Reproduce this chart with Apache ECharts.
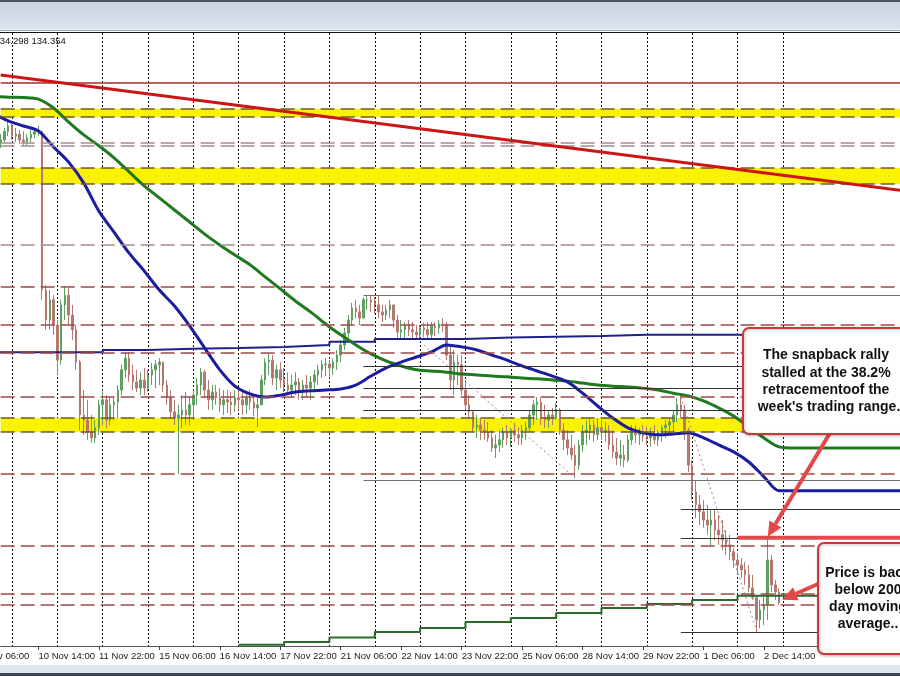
<!DOCTYPE html>
<html><head><meta charset="utf-8">
<script src="https://cdn.jsdelivr.net/npm/echarts/dist/echarts.min.js"></script>
<style>html,body{margin:0;padding:0;background:#fff;}#c{width:900px;height:676px;}</style>
</head><body><div id="c"></div>
<script>
// ---- time axis (2-hour bars, trading days only) ----
const tradingDays = ['9 Nov','10 Nov','11 Nov','14 Nov','15 Nov','16 Nov','17 Nov','18 Nov','21 Nov','22 Nov','23 Nov','24 Nov','25 Nov','28 Nov','29 Nov','30 Nov','1 Dec','2 Dec','5 Dec','6 Dec','7 Dec'];
const tickLabels = ['9 Nov 06:00','10 Nov 14:00','11 Nov 22:00','15 Nov 06:00','16 Nov 14:00','17 Nov 22:00','21 Nov 06:00','22 Nov 14:00','23 Nov 22:00','25 Nov 06:00','28 Nov 14:00','29 Nov 22:00','1 Dec 06:00','2 Dec 14:00'];
const headerText = '134.298 134.354';

// ---- USDJPY price bars (every 2 hours) ----
const close = [146.30,146.25,146.15,146.10,146.04,146.20,146.25,146.47,146.61,146.35,
146.40,146.25,146.20,146.30,146.40,146.47,146.47,142.39,141.62,142.14,
141.49,140.59,142.01,142.26,141.75,141.37,140.54,139.18,139.05,138.74,
138.59,138.85,139.44,139.57,139.05,139.44,139.51,139.82,140.34,140.64,
140.21,140.03,139.87,140.08,139.87,140.21,140.34,140.47,140.54,139.95,
139.62,139.26,139.10,139.18,139.31,139.18,139.44,139.69,139.95,140.28,
139.82,139.57,139.77,139.62,139.44,139.57,139.51,139.44,139.62,139.57,
139.44,139.62,139.51,139.36,139.44,140.08,140.54,140.59,140.13,140.34,
140.08,139.95,139.82,139.95,140.03,139.82,139.95,139.87,140.03,140.21,
140.34,140.47,140.49,140.39,140.54,140.72,140.98,141.29,141.62,141.93,
141.83,141.67,142.14,142.14,142.08,142.01,141.83,141.75,141.88,142.01,
141.62,141.31,141.37,141.49,141.37,141.31,141.24,141.42,141.37,141.24,
141.47,141.42,141.52,141.49,140.72,140.08,140.54,140.47,139.82,139.44,
139.26,138.85,138.92,138.79,138.74,138.59,138.33,138.41,138.54,138.74,
138.59,138.79,138.67,138.59,138.79,138.85,139.18,139.44,139.51,139.10,
139.05,139.18,139.10,139.31,138.79,138.54,138.33,138.15,137.89,138.41,
138.74,138.79,138.92,138.67,138.85,138.74,138.79,138.41,138.23,138.07,
138.15,138.02,138.54,138.79,138.67,138.74,138.64,138.59,138.67,138.54,
138.74,138.85,138.92,139.00,139.18,139.44,139.31,138.79,137.89,137.20,
136.87,136.69,136.48,136.35,136.48,136.22,136.10,135.97,135.84,135.66,
135.45,135.32,135.20,135.07,134.73,134.48,133.91,134.17,134.30,135.45,
134.81,134.63,134.35];
const high = [146.51,146.47,146.38,146.30,146.25,146.30,146.40,146.56,146.71,146.66,
146.56,146.51,146.47,146.40,146.51,146.56,146.61,146.38,142.52,142.39,
142.26,141.62,142.14,142.50,142.44,142.01,141.49,140.59,139.82,139.57,
139.18,139.05,139.57,139.82,139.69,139.62,139.62,139.95,140.47,140.80,
140.80,140.47,140.34,140.28,140.39,140.34,140.52,140.59,140.64,140.54,
140.08,139.82,139.57,139.44,139.69,139.77,139.62,139.82,140.13,140.39,
140.34,140.08,139.95,139.95,139.87,139.82,139.82,139.77,139.82,139.87,
139.82,139.77,139.82,139.69,139.62,140.21,140.64,140.77,140.72,140.47,
140.54,140.39,140.28,140.21,140.28,140.13,140.08,140.21,140.18,140.34,
140.47,140.59,140.64,140.59,140.64,140.85,141.11,141.42,141.75,142.06,
142.14,142.01,142.21,142.26,142.24,142.21,142.24,142.01,142.01,142.14,
142.01,141.75,141.62,141.57,141.62,141.57,141.49,141.49,141.55,141.57,
141.57,141.57,141.62,141.67,141.57,140.98,140.85,140.72,140.72,140.08,
139.69,139.31,139.18,139.10,139.05,139.00,138.79,138.67,138.79,138.85,
138.92,138.85,138.97,138.85,138.92,139.00,139.31,139.57,139.64,139.62,
139.44,139.31,139.36,139.49,139.36,138.97,138.79,138.67,138.41,138.54,
138.92,139.05,139.10,139.05,139.10,139.05,139.00,138.92,138.79,138.59,
138.54,138.41,138.67,138.92,138.92,138.85,138.92,138.87,138.85,138.92,
138.79,138.92,139.05,139.10,139.31,139.62,139.69,139.44,138.85,138.02,
137.51,137.12,136.99,136.87,136.74,136.74,136.61,136.48,136.22,136.10,
135.76,135.63,135.50,135.40,135.32,135.07,134.55,134.42,134.55,136.02,
135.58,134.94,134.73];
const low = [146.20,146.12,146.04,145.99,145.94,145.99,146.04,146.20,146.35,146.25,
146.20,146.15,146.10,146.12,146.20,146.30,146.35,142.14,141.37,141.37,
141.24,140.21,140.47,141.62,141.49,141.11,140.34,138.79,138.67,138.54,
138.46,138.46,138.67,138.92,138.85,138.92,139.05,139.10,139.69,140.13,
140.03,139.82,139.77,139.69,139.69,139.77,139.95,139.87,139.95,139.77,
139.44,139.10,138.92,137.66,138.85,138.92,138.92,139.05,139.44,139.69,
139.62,139.31,139.31,139.44,139.26,139.18,139.23,139.18,139.26,139.31,
139.18,139.21,139.31,139.15,138.87,139.44,139.95,140.21,139.95,139.82,
139.87,139.77,139.69,139.62,139.69,139.57,139.57,139.62,139.57,139.77,
139.95,140.13,140.18,140.13,140.21,140.34,140.54,140.85,141.16,141.49,
141.67,141.49,141.75,141.88,141.83,141.78,141.67,141.57,141.62,141.67,
141.42,141.11,141.11,141.16,141.21,141.16,141.11,141.16,141.18,141.11,
141.16,141.21,141.26,141.31,140.59,139.82,139.69,139.95,139.69,139.31,
139.10,138.74,138.59,138.54,138.54,138.49,138.23,138.07,138.23,138.33,
138.41,138.36,138.49,138.41,138.41,138.54,138.74,138.92,139.05,138.92,
138.85,138.85,138.92,139.05,138.67,138.28,138.15,138.02,137.56,137.77,
138.23,138.41,138.54,138.49,138.54,138.54,138.49,138.28,138.07,137.89,
137.87,137.84,137.97,138.41,138.46,138.41,138.49,138.41,138.36,138.43,
138.38,138.49,138.59,138.67,138.74,139.00,139.10,138.54,137.71,136.99,
136.53,136.35,136.28,136.10,135.81,135.97,135.84,135.71,135.58,135.45,
135.25,135.07,134.99,134.81,134.63,134.42,133.60,133.70,133.78,133.91,
134.63,134.42,134.30];

// ---- hourly moving averages, one value every 4 bars (8 hours) ----
const maStep = 4;
const ma100h = [147.02,146.92,146.74,146.61,146.48,146.07,145.68,145.14,144.42,143.88,
143.34,142.88,142.39,141.98,141.47,140.90,140.34,139.92,139.72,139.64,
139.69,139.77,139.80,139.82,139.85,139.95,140.18,140.39,140.54,140.67,
140.80,140.98,140.93,140.85,140.72,140.59,140.44,140.31,140.18,140.03,
139.74,139.41,139.10,138.85,138.72,138.67,138.69,138.72,138.59,138.41,
138.23,137.97,137.59,137.23,137.23,137.23,137.23,137.23,137.23,137.23,137.23,137.23];
const ma200h = [147.38,147.37,147.35,147.34,147.30,147.07,146.71,146.38,146.10,145.79,
145.43,145.07,144.76,144.45,144.14,143.83,143.55,143.29,143.04,142.73,
142.42,142.11,141.83,141.52,141.24,140.98,140.75,140.57,140.44,140.34,
140.31,140.28,140.23,140.21,140.18,140.16,140.13,140.11,140.08,140.05,
140.00,139.95,139.92,139.90,139.87,139.82,139.74,139.67,139.54,139.36,
139.15,138.87,138.59,138.36,138.33,138.33,138.33,138.33,138.33,138.33,138.33,138.33];
// ---- daily moving averages, one value per trading day (9 Nov .. 2 Dec) ----
const ma100d = [140.79,140.79,140.79,140.85,140.88,140.90,140.93,140.98,141.06,141.13,141.13,141.17,141.19,141.21,141.24,141.24,141.24,141.19];
const ma200d = [null,null,null,null,null,null,133.27,133.34,133.46,133.60,133.70,133.86,133.96,134.09,134.22,134.32,134.42,134.53];

// ---- horizontal levels ----
const solidLevels = [147.71];
const yellowZones = [[147.05,146.84],[145.53,145.12],[139.10,138.74]];
const grayDashedLevels = [146.17,146.10,143.55];
const redDashedLevels = [142.47,141.49,140.77,139.64,137.66,135.81,134.58,134.30];
// fibonacci retracements
const fibWeekStart = '21 Nov 18:00';
const fibWeekLevels = [142.26,140.44,139.87,139.31,137.51];
const fibSwingStart = '30 Nov 18:00';
const fibSwingLevels = [139.87,136.76,136.02,133.60];
const retrace382 = 136.02;
const retrace382Start = '2 Dec 00:00';
// trend line (from 9 Nov 18:00 to the right edge) & dotted swing lines
const trendLineStart = '9 Nov 18:00';
const trendLine = [147.92, 144.96];
const swingLines = [[['23 Nov 02:00',140.98],['28 Nov 10:00',137.56]],[['30 Nov 18:00',139.64],['2 Dec 10:00',133.65]]];
const spikeBar = '2 Dec 16:00';
const lastBar = '2 Dec 22:00';

// ---- build categories ----
const categories = [];
tradingDays.forEach((d, di) => {
  for (let h = (di === 0 ? 6 : 0); h < 24; h += 2) categories.push(d + ' ' + String(h).padStart(2, '0') + ':00');
});
categories.length = 245;
const N = categories.length;
const lastGridIdx = categories.indexOf('5 Dec 00:00');
const dayStartIdx = tradingDays.map((d, di) => di === 0 ? 0 : categories.indexOf(d + ' 00:00'));
const catIdx = c => categories.indexOf(c);

const ohlc = close.map((c, i) => [i === 0 ? c : close[i - 1], c, low[i], high[i]]);
const maPts = arr => arr.map((v, k) => [k * maStep, v]);
function dailyPts(arr) {
  const pts = [];
  arr.forEach((v, d) => { if (v != null) pts.push([dayStartIdx[d], v]); });
  pts.push([N - 1, arr[arr.length - 1]]);
  return pts;
}

const step = 45.35 / 12;          // px per 2-hour bar
const firstShown = 6;             // first category inside the plot (9 Nov 18:00)
const idx0X = 12 - 9 * step;      // where 9 Nov 06:00 would sit
const gridLeft = idx0X + firstShown * step;
const chart = echarts.init(document.getElementById('c'));
const dashStyle = (color) => ({ color: color, width: 1.5, type: [14, 6] });
const markLineCommon = { symbol: ['none', 'none'], silent: true, label: { show: false }, animation: false };

const option = {
  animation: false,
  backgroundColor: '#ffffff',
  grid: { left: gridLeft, top: 33, width: (N - 1 - firstShown) * step, height: 613 },
  xAxis: {
    type: 'category', data: categories, boundaryGap: false, z: 1, min: firstShown, max: N - 1,
    axisLine: { lineStyle: { color: '#555', width: 1 } },
    axisTick: { show: true, length: 4, interval: (i) => tickLabels.includes(categories[i]), lineStyle: { color: '#444' } },
    axisLabel: { interval: (i) => tickLabels.includes(categories[i]), align: 'left', margin: 5, fontSize: 9.5, fontFamily: '"Liberation Sans", Arial, sans-serif', color: '#222' },
    splitLine: { show: true, interval: (i) => categories[i].endsWith(' 00:00') && i <= lastGridIdx, lineStyle: { color: '#111', width: 1, type: [2, 2] } }
  },
  yAxis: { type: 'value', min: 133.24, max: 149.00, show: false, splitLine: { show: false } },
  series: [
    { type: 'line', data: [], z: 0, silent: true,
      markArea: { silent: true, itemStyle: { color: '#fbf200' }, data: yellowZones.map(z => [{ yAxis: z[0] }, { yAxis: z[1] }]) } },
    { type: 'line', data: [], z: 2, silent: true,
      markLine: Object.assign({}, markLineCommon, { data: [].concat(
        yellowZones.flat().map(v => ({ yAxis: v, lineStyle: dashStyle('#6e5a2c') })),
        grayDashedLevels.map(v => ({ yAxis: v, lineStyle: dashStyle('#a58c8c') })),
        redDashedLevels.map(v => ({ yAxis: v, lineStyle: dashStyle('#a04a4a') })),
        solidLevels.map(v => ({ yAxis: v, lineStyle: { color: '#a02c2c', width: 1.5, type: 'solid' } }))
      ) }) },
    { type: 'line', data: [], z: 2, silent: true,
      markLine: Object.assign({}, markLineCommon, { data: [].concat(
        fibWeekLevels.map((v, i) => [{ coord: [catIdx(fibWeekStart), v], lineStyle: { color: (i === 0 || i === fibWeekLevels.length - 1) ? '#707070' : '#333', width: 1.2, type: 'solid' } }, { coord: [N - 1, v] }]),
        fibSwingLevels.map(v => [{ coord: [catIdx(fibSwingStart), v], lineStyle: { color: '#333', width: 1.2, type: 'solid' } }, { coord: [N - 1, v] }]),
        swingLines.map(s => [{ coord: [catIdx(s[0][0]), s[0][1]], lineStyle: { color: '#8a8a8a', width: 1, type: [2, 3] } }, { coord: [catIdx(s[1][0]), s[1][1]] }])
      ) }) },
    { type: 'candlestick', data: ohlc.map((d, i) => [i].concat(d)), encode: { x: 0, y: [1, 2, 3, 4] }, barWidth: 2, z: 3,
      itemStyle: { color: '#5f9f5f', color0: '#b47870', borderColor: '#5f9f5f', borderColor0: '#b47870', borderWidth: 1 } },
    { type: 'line', data: dailyPts(ma100d), step: 'end', showSymbol: false, z: 4, lineStyle: { color: '#20208c', width: 2 } },
    { type: 'line', data: dailyPts(ma200d), step: 'end', showSymbol: false, z: 4, lineStyle: { color: '#2a6a2a', width: 2 } },
    { type: 'line', data: maPts(ma200h), smooth: 0.3, showSymbol: false, z: 4, lineStyle: { color: '#1f7a1f', width: 3 } },
    { type: 'line', data: maPts(ma100h), smooth: 0.3, showSymbol: false, z: 4, lineStyle: { color: '#1c1ca0', width: 3 } },
    { type: 'line', data: [[catIdx(trendLineStart), trendLine[0]], [N - 1, trendLine[1]]], showSymbol: false, z: 5, lineStyle: { color: '#cc1515', width: 3 } },
    { type: 'line', data: [[catIdx(retrace382Start), retrace382], [N - 1, retrace382]], showSymbol: false, z: 5, lineStyle: { color: '#e24a4a', width: 4 } }
  ]
};
chart.setOption(option);

// ---- annotations ----
function arrow(tail, tip, color) {
  const dx = tip[0] - tail[0], dy = tip[1] - tail[1];
  const len = Math.hypot(dx, dy), ux = dx / len, uy = dy / len;
  const bx = tip[0] - ux * 15, by = tip[1] - uy * 15, nx = -uy, ny = ux;
  return [
    { type: 'line', z: 40, shape: { x1: tail[0], y1: tail[1], x2: bx, y2: by }, style: { stroke: color, lineWidth: 4 } },
    { type: 'polygon', z: 40, shape: { points: [tip, [bx + nx * 7, by + ny * 7], [bx - nx * 7, by - ny * 7]] }, style: { fill: color } }
  ];
}
const toPx = (c, v) => chart.convertToPixel({ gridIndex: 0 }, [catIdx(c), v]);
const tip1 = toPx(spikeBar, high[catIdx(spikeBar)]);
const tip2 = toPx(lastBar, close[catIdx(lastBar)]);
const boxFont = 'bold 14px "Liberation Sans", Arial, sans-serif';
const txt = (t, x, y) => ({ type: 'text', z: 60, x: x, y: y, style: { text: t, font: boxFont, fill: '#111', align: 'center', verticalAlign: 'middle' } });
// tick labels that fall left of the visible plot (cut by the window edge)
const cutLabels = tickLabels.filter(t => catIdx(t) < firstShown).map(t => ({
  type: 'text', z: 52, x: idx0X + catIdx(t) * step, y: 651,
  style: { text: t, font: '9.5px "Liberation Sans", Arial, sans-serif', fill: '#222', verticalAlign: 'top' }
}));

const graphics = [
  { type: 'rect', z: 50, shape: { x: 0, y: 0, width: 900, height: 31 }, style: { fill: new echarts.graphic.LinearGradient(0, 0, 0, 1, [{ offset: 0, color: '#c8d3df' }, { offset: 0.85, color: '#d8e1ea' }, { offset: 1, color: '#e8eef4' }]) } },
  { type: 'rect', z: 51, shape: { x: 0, y: 0, width: 900, height: 2 }, style: { fill: '#4a5561' } },
  { type: 'line', z: 51, shape: { x1: 0, y1: 30.5, x2: 900, y2: 30.5 }, style: { stroke: '#a3adb8', lineWidth: 1 } },
  { type: 'line', z: 51, shape: { x1: 0, y1: 32.5, x2: 900, y2: 32.5 }, style: { stroke: '#111', lineWidth: 1 } },
  { type: 'rect', z: 50, shape: { x: 0, y: 665, width: 900, height: 9 }, style: { fill: '#dde6ef' } },
  { type: 'rect', z: 51, shape: { x: 0, y: 673, width: 900, height: 3 }, style: { fill: '#3e4852' } },
  { type: 'text', z: 52, x: -5.5, y: 41, style: { text: headerText, font: '9.5px "Liberation Sans", Arial, sans-serif', fill: '#111', verticalAlign: 'middle' } }
].concat(
  cutLabels,
  arrow([830, 433], [tip1[0], tip1[1] - 1], '#e24848'),
  arrow([818, 584], [tip2[0] + 3, tip2[1] - 3], '#e24848'),
  [
    { type: 'rect', z: 55, shape: { x: 743, y: 328, width: 175, height: 106, r: 6 }, style: { fill: '#fff', stroke: '#c83a3a', lineWidth: 2, shadowBlur: 3, shadowColor: 'rgba(0,0,0,0.25)', shadowOffsetX: 1, shadowOffsetY: 1 } },
    txt('The snapback rally', 826, 355), txt('stalled at the 38.2%', 826, 373), txt('retracementoof the', 826, 390), txt("week's trading range.", 829, 407),
    { type: 'rect', z: 55, shape: { x: 818, y: 543, width: 100, height: 111, r: 6 }, style: { fill: '#fff', stroke: '#c83a3a', lineWidth: 2, shadowBlur: 3, shadowColor: 'rgba(0,0,0,0.25)', shadowOffsetX: 1, shadowOffsetY: 1 } },
    txt('Price is back', 868, 573), txt('below 200', 868, 590), txt('day moving', 868, 607), txt('average..', 868, 624)
  ]
);
chart.setOption({ graphic: graphics });
</script>
</body></html>
